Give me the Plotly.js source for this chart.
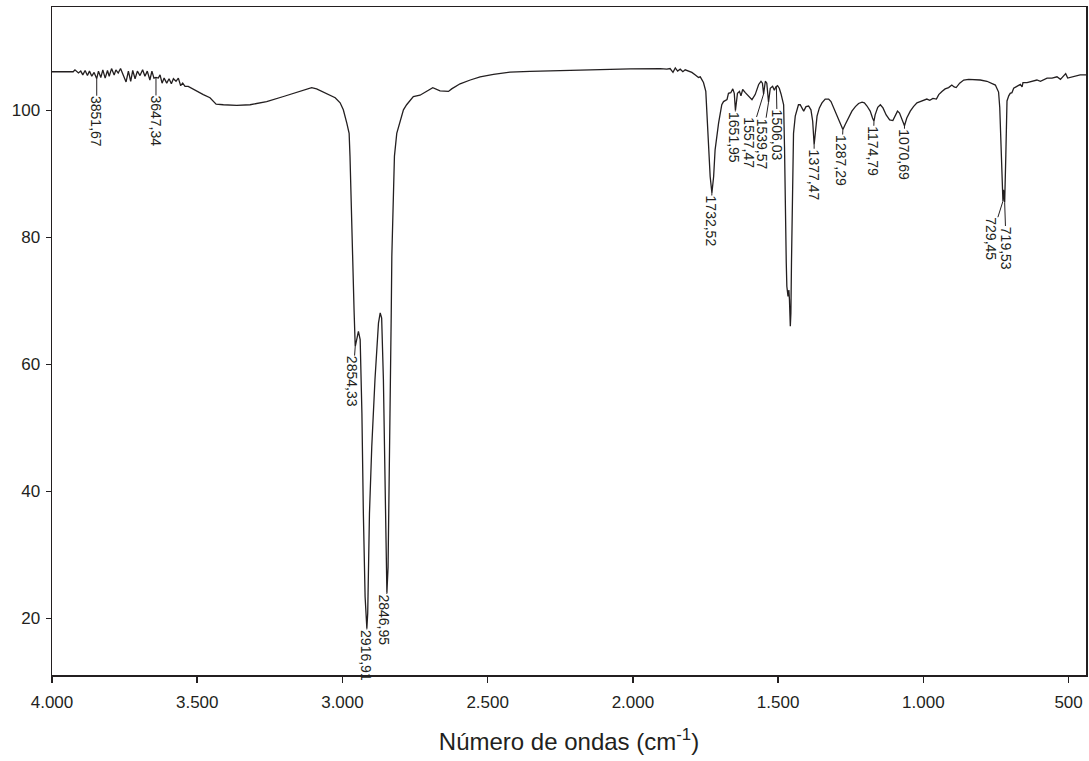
<!DOCTYPE html>
<html>
<head>
<meta charset="utf-8">
<script src="https://cdn.plot.ly/plotly-3.0.1.min.js"></script>
<style>
  html, body { margin: 0; padding: 0; background: #fff; }
  #chart { width: 1089px; height: 761px; }
</style>
</head>
<body>
<div id="chart"></div>
<script>
// Wavenumber (cm-1)
const wavenumber = [
  4000, 3995, 3927, 3921, 3909, 3901, 3894, 3886, 3878, 3871, 3863, 3855, 3846, 3840, 3832, 3825,
  3817, 3809, 3803, 3795, 3786, 3780, 3772, 3764, 3754, 3745, 3737, 3729, 3722, 3714, 3706, 3697,
  3688, 3680, 3672, 3663, 3656, 3649, 3642, 3634, 3628, 3621, 3614, 3605, 3597, 3589, 3582, 3573,
  3565, 3557, 3550, 3542, 3531, 3519, 3508, 3496, 3479, 3456, 3435, 3410, 3364, 3318, 3261, 3203,
  3146, 3106, 3089, 3054, 3025, 3008, 2997, 2985, 2977, 2974, 2970, 2966, 2962, 2960, 2956, 2951,
  2945, 2939, 2933, 2928, 2922, 2916, 2913, 2907, 2899, 2888, 2876, 2870, 2865, 2859, 2853, 2850,
  2847, 2843, 2839, 2836, 2832, 2830, 2824, 2821, 2813, 2801, 2790, 2779, 2756, 2733, 2710, 2689,
  2664, 2635, 2624, 2595, 2560, 2526, 2480, 2423, 2354, 2239, 2124, 2009, 1906, 1883, 1872, 1862,
  1854, 1846, 1837, 1828, 1820, 1808, 1797, 1785, 1774, 1768, 1762, 1757, 1749, 1742, 1734, 1728,
  1722, 1717, 1705, 1694, 1688, 1676, 1671, 1663, 1656, 1651, 1647, 1640, 1633, 1628, 1622, 1613,
  1602, 1590, 1579, 1567, 1559, 1554, 1550, 1544, 1539, 1533, 1527, 1519, 1513, 1508, 1502, 1496,
  1490, 1484, 1481, 1478, 1476, 1472, 1470, 1466, 1463, 1461, 1458, 1456, 1454, 1451, 1447, 1441,
  1435, 1430, 1424, 1418, 1412, 1404, 1395, 1387, 1381, 1376, 1370, 1366, 1358, 1349, 1338, 1326,
  1318, 1309, 1298, 1286, 1277, 1269, 1257, 1246, 1234, 1223, 1211, 1203, 1194, 1183, 1175, 1170,
  1166, 1157, 1148, 1139, 1128, 1116, 1105, 1097, 1089, 1082, 1074, 1065, 1057, 1045, 1034, 1022,
  1011, 999, 988, 978, 967, 955, 947, 936, 925, 913, 902, 894, 887, 875, 861, 844,
  827, 804, 781, 764, 752, 747, 741, 737, 735, 732, 728, 726, 724, 720, 716, 712,
  706, 701, 695, 689, 678, 666, 660, 657, 643, 626, 609, 597, 586, 574, 557, 540,
  528, 517, 510, 503, 488, 471, 460, 448, 440
];
// Transmittance (%)
const transmittance = [
  106.1, 106.1, 106.1, 106.4, 105.9, 106.2, 105.6, 106.3, 105.5, 106.2, 105.4, 106.0, 105.0, 106.2, 105.2, 106.4,
  105.1, 106.3, 105.4, 106.6, 105.6, 106.4, 105.9, 106.6, 105.6, 104.5, 106.2, 104.6, 106.3, 105.0, 106.2, 105.5,
  106.4, 105.4, 106.2, 104.8, 106.2, 105.1, 105.2, 105.1, 105.6, 104.3, 105.1, 104.3, 105.0, 104.2, 105.0, 104.6,
  105.1, 103.9, 104.3, 103.8, 103.8, 103.5, 103.1, 102.9, 102.5, 102.0, 101.0, 100.9, 100.8, 100.9, 101.4, 102.2,
  103.0, 103.6, 103.4, 102.7, 102.0, 101.2, 100.1, 98.0, 96.4, 92.8, 84.9, 77.0, 72.0, 68.5, 62.8, 63.9,
  65.2, 63.9, 52.3, 36.5, 23.4, 18.4, 20.8, 36.5, 47.1, 57.6, 66.5, 68.1, 67.3, 57.6, 41.8, 28.7,
  24.0, 28.0, 40.0, 55.0, 68.0, 77.0, 87.5, 92.8, 96.4, 98.5, 100.1, 100.9, 102.2, 102.4, 103.1, 103.6,
  103.1, 103.0, 103.4, 104.2, 104.8, 105.3, 105.7, 106.05, 106.15, 106.3, 106.45, 106.55, 106.6, 106.5, 106.6, 106.0,
  106.7, 106.2, 106.5, 106.1, 106.4, 106.2, 106.0, 105.6, 105.2, 105.3, 104.7, 104.4, 103.0, 96.4, 89.6, 87.0,
  89.6, 93.8, 98.0, 100.9, 101.4, 101.7, 102.7, 102.8, 103.4, 102.7, 100.0, 102.7, 103.0, 102.3, 103.3, 102.8,
  102.2, 101.7, 102.5, 104.1, 104.6, 104.3, 102.6, 104.6, 104.3, 101.3, 103.5, 103.8, 103.2, 103.7, 103.9, 103.5,
  102.6, 101.6, 100.9, 94.3, 83.8, 76.0, 72.3, 70.7, 71.7, 70.2, 66.0, 68.1, 76.0, 86.5, 96.4, 99.1,
  100.1, 100.9, 100.9, 100.4, 99.9, 100.6, 100.7, 100.1, 98.3, 94.6, 97.5, 99.1, 100.4, 101.2, 101.8, 101.8,
  101.4, 100.4, 99.1, 97.9, 97.0, 97.8, 98.8, 99.9, 100.6, 101.1, 101.3, 101.2, 100.7, 99.9, 98.8, 98.3,
  99.3, 100.5, 100.9, 100.4, 99.3, 98.5, 98.4, 99.1, 99.9, 99.6, 98.5, 97.6, 98.8, 99.9, 100.6, 101.2,
  101.4, 101.6, 101.8, 101.6, 101.9, 101.8, 102.5, 103.0, 103.4, 103.6, 104.0, 103.7, 103.6, 104.3, 104.8, 104.9,
  104.9, 104.8, 104.6, 104.2, 104.0, 103.5, 102.9, 100.5, 97.5, 93.0, 88.6, 85.7, 87.5, 85.5, 93.0, 101.5,
  102.3, 102.7, 102.8, 103.5, 103.8, 104.1, 103.7, 104.4, 104.4, 104.6, 104.8, 104.6, 104.9, 105.1, 105.1, 105.3,
  104.9, 105.4, 105.8, 105.1, 105.3, 105.5, 105.6, 105.6, 105.6
];

// Peak annotations
const peakWn = [3846, 3642, 2956, 2916, 2847, 1728, 1647, 1550, 1533, 1506, 1376, 1277, 1170, 1065, 726, 720];
const peakT  = [105.0, 105.2, 62.8, 18.4, 24.0, 87.0, 100.0, 102.6, 101.3, 103.7, 94.6, 97.0, 98.3, 97.6, 85.7, 85.5];
const peakLabels = ['3851,67', '3647,34', '2854,33', '2916,91', '2846,95', '1732,52', '1651,95', '1557,47',
                    '1539,57', '1506,03', '1377,47', '1287,29', '1174,79', '1070,69', '729,45', '719,53'];

// x tick labels
const xTickVals = [4000, 3500, 3000, 2500, 2000, 1500, 1000, 500];
const xTickText = ['4.000', '3.500', '3.000', '2.500', '2.000', '1.500', '1.000', '500'];
const yTickVals = [20, 40, 60, 80, 100];
const yTickText = ['20', '40', '60', '80', '100'];

// label offsets (pixels) from peak point to label centre — layout only
const labelDx = [0, 0, -2.5, -1.5, -2.5, -1, -2, -15, -6.5, 1, 0, -1.5, -1, 0, -12, 1.5];
const labelDy = [43, 44, 35, 27, 27, 28.5, 27, 49, 41.5, 48, 30, 31, 30, 29, 38, 45.5];

const ink = '#231f20';
const fontFam = 'Liberation Sans, Arial, Helvetica, sans-serif';

const trace = {
  x: wavenumber,
  y: transmittance,
  type: 'scatter',
  mode: 'lines',
  line: { color: ink, width: 1.3 },
  hoverinfo: 'x+y'
};

const annotations = peakWn.map((wn, i) => ({
  x: wn, y: peakT[i], xref: 'x', yref: 'y',
  text: peakLabels[i],
  textangle: 90,
  showarrow: true,
  arrowhead: 0, arrowwidth: 1, arrowcolor: ink,
  standoff: 0, startstandoff: 0,
  ax: labelDx[i], ay: labelDy[i],
  borderpad: 0,
  font: { family: fontFam, size: 14, color: ink }
}));

const layout = {
  width: 1089, height: 761,
  margin: { l: 52, r: 3, t: 7, b: 86 },
  paper_bgcolor: '#ffffff', plot_bgcolor: '#ffffff',
  showlegend: false,
  font: { family: fontFam, color: ink },
  xaxis: {
    range: [4000, 440],
    tickvals: xTickVals, ticktext: xTickText,
    ticks: 'outside', ticklen: 6, tickwidth: 1.5, tickcolor: ink,
    ticklabelstandoff: 5,
    showline: true, mirror: true, linecolor: ink, linewidth: 1.5,
    showgrid: false, zeroline: false,
    tickfont: { family: fontFam, size: 17, color: ink },
    title: { text: 'Número de ondas (cm<sup>-1</sup>)', font: { family: fontFam, size: 24, color: ink }, standoff: 22 }
  },
  yaxis: {
    range: [11.06, 116.3],
    tickvals: yTickVals, ticktext: yTickText,
    ticks: 'outside', ticklen: 5, tickwidth: 1.5, tickcolor: ink,
    ticklabelstandoff: 2,
    showline: true, mirror: true, linecolor: ink, linewidth: 1.5,
    showgrid: false, zeroline: false,
    tickfont: { family: fontFam, size: 17, color: ink }
  },
  annotations: annotations
};

Plotly.newPlot('chart', [trace], layout, { displayModeBar: false, staticPlot: true });
</script>
</body>
</html>
